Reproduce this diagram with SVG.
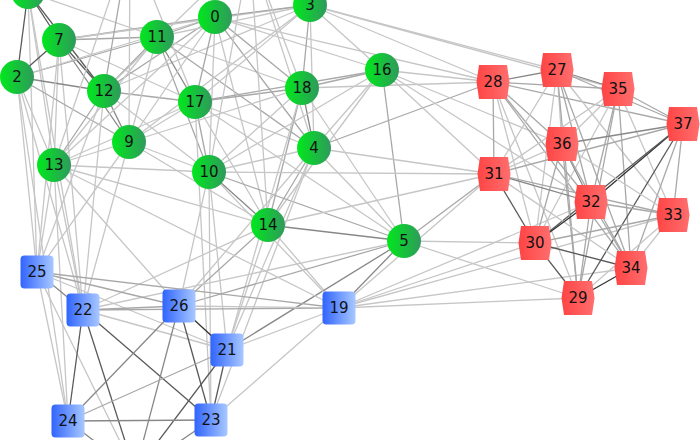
<svg xmlns="http://www.w3.org/2000/svg" width="700" height="440" viewBox="0 0 700 440">
<defs>
<linearGradient id="gG" x1="0" y1="0" x2="1" y2="0"><stop offset="0" stop-color="#00e81c"/><stop offset="1" stop-color="#2f9a5c"/></linearGradient>
<linearGradient id="gB" x1="0" y1="0" x2="1" y2="0"><stop offset="0" stop-color="#3064ff"/><stop offset="1" stop-color="#a8c8ff"/></linearGradient>
<linearGradient id="gR" x1="0" y1="0" x2="1" y2="0"><stop offset="0" stop-color="#ff4444"/><stop offset="1" stop-color="#ff6e6e"/></linearGradient>
</defs>
<style>
#edges line{stroke-width:1.3;fill:none}
.a{stroke:#c6c6c6}.b{stroke:#a8a8a8}.c{stroke:#888888}.d{stroke:#5a5a5a}.e{stroke:#333333}
.node text{font-family:"DejaVu Sans",sans-serif;font-size:15px;fill:#111;text-anchor:middle}
.g circle{fill:url(#gG)}
.bl rect{fill:url(#gB)}
.r polygon{fill:url(#gR)}
</style>
<rect width="700" height="440" fill="#ffffff"/>
<g id="edges">
<line class="d" x1="28" y1="-8" x2="17" y2="77"/>
<line class="d" x1="28" y1="-8" x2="59" y2="40"/>
<line class="d" x1="28" y1="-8" x2="104" y2="91"/>
<line class="a" x1="28" y1="-8" x2="54" y2="165"/>
<line class="a" x1="28" y1="-8" x2="37" y2="272"/>
<line class="a" x1="28" y1="-8" x2="157" y2="37"/>
<line class="a" x1="28" y1="-8" x2="83" y2="310"/>
<line class="d" x1="59" y1="40" x2="17" y2="77"/>
<line class="d" x1="59" y1="40" x2="104" y2="91"/>
<line class="c" x1="59" y1="40" x2="129" y2="142"/>
<line class="a" x1="59" y1="40" x2="54" y2="165"/>
<line class="b" x1="59" y1="40" x2="157" y2="37"/>
<line class="b" x1="59" y1="40" x2="215" y2="17"/>
<line class="a" x1="59" y1="40" x2="195" y2="102"/>
<line class="a" x1="59" y1="40" x2="310" y2="5"/>
<line class="a" x1="59" y1="40" x2="83" y2="310"/>
<line class="c" x1="17" y1="77" x2="104" y2="91"/>
<line class="b" x1="17" y1="77" x2="157" y2="37"/>
<line class="b" x1="17" y1="77" x2="129" y2="142"/>
<line class="a" x1="17" y1="77" x2="54" y2="165"/>
<line class="a" x1="17" y1="77" x2="215" y2="17"/>
<line class="a" x1="17" y1="77" x2="37" y2="272"/>
<line class="a" x1="17" y1="77" x2="68" y2="421"/>
<line class="a" x1="17" y1="77" x2="83" y2="310"/>
<line class="b" x1="104" y1="91" x2="157" y2="37"/>
<line class="b" x1="104" y1="91" x2="215" y2="17"/>
<line class="b" x1="104" y1="91" x2="195" y2="102"/>
<line class="c" x1="104" y1="91" x2="129" y2="142"/>
<line class="b" x1="104" y1="91" x2="54" y2="165"/>
<line class="a" x1="104" y1="91" x2="310" y2="5"/>
<line class="a" x1="104" y1="91" x2="83" y2="310"/>
<line class="a" x1="104" y1="91" x2="209" y2="172"/>
<line class="c" x1="157" y1="37" x2="195" y2="102"/>
<line class="b" x1="157" y1="37" x2="209" y2="172"/>
<line class="a" x1="157" y1="37" x2="129" y2="142"/>
<line class="a" x1="157" y1="37" x2="54" y2="165"/>
<line class="b" x1="157" y1="37" x2="215" y2="17"/>
<line class="a" x1="157" y1="37" x2="302" y2="88"/>
<line class="a" x1="157" y1="37" x2="310" y2="5"/>
<line class="b" x1="157" y1="37" x2="314" y2="148"/>
<line class="b" x1="215" y1="17" x2="195" y2="102"/>
<line class="a" x1="215" y1="17" x2="209" y2="172"/>
<line class="a" x1="215" y1="17" x2="129" y2="142"/>
<line class="a" x1="215" y1="17" x2="54" y2="165"/>
<line class="b" x1="215" y1="17" x2="310" y2="5"/>
<line class="b" x1="215" y1="17" x2="302" y2="88"/>
<line class="b" x1="215" y1="17" x2="314" y2="148"/>
<line class="a" x1="215" y1="17" x2="382" y2="70"/>
<line class="a" x1="215" y1="17" x2="268" y2="225"/>
<line class="b" x1="310" y1="5" x2="302" y2="88"/>
<line class="a" x1="310" y1="5" x2="314" y2="148"/>
<line class="a" x1="310" y1="5" x2="195" y2="102"/>
<line class="a" x1="310" y1="5" x2="382" y2="70"/>
<line class="a" x1="310" y1="5" x2="129" y2="142"/>
<line class="b" x1="195" y1="102" x2="209" y2="172"/>
<line class="b" x1="195" y1="102" x2="302" y2="88"/>
<line class="b" x1="195" y1="102" x2="382" y2="70"/>
<line class="a" x1="195" y1="102" x2="129" y2="142"/>
<line class="a" x1="195" y1="102" x2="268" y2="225"/>
<line class="a" x1="195" y1="102" x2="54" y2="165"/>
<line class="a" x1="195" y1="102" x2="314" y2="148"/>
<line class="b" x1="302" y1="88" x2="382" y2="70"/>
<line class="c" x1="302" y1="88" x2="314" y2="148"/>
<line class="b" x1="302" y1="88" x2="268" y2="225"/>
<line class="a" x1="302" y1="88" x2="209" y2="172"/>
<line class="a" x1="302" y1="88" x2="129" y2="142"/>
<line class="a" x1="382" y1="70" x2="314" y2="148"/>
<line class="a" x1="382" y1="70" x2="268" y2="225"/>
<line class="b" x1="382" y1="70" x2="404" y2="241"/>
<line class="a" x1="382" y1="70" x2="209" y2="172"/>
<line class="b" x1="314" y1="148" x2="268" y2="225"/>
<line class="a" x1="314" y1="148" x2="404" y2="241"/>
<line class="a" x1="314" y1="148" x2="209" y2="172"/>
<line class="a" x1="129" y1="142" x2="54" y2="165"/>
<line class="a" x1="129" y1="142" x2="209" y2="172"/>
<line class="a" x1="129" y1="142" x2="268" y2="225"/>
<line class="a" x1="54" y1="165" x2="209" y2="172"/>
<line class="a" x1="54" y1="165" x2="268" y2="225"/>
<line class="c" x1="209" y1="172" x2="268" y2="225"/>
<line class="b" x1="209" y1="172" x2="404" y2="241"/>
<line class="c" x1="268" y1="225" x2="404" y2="241"/>
<line class="a" x1="302" y1="88" x2="404" y2="241"/>
<line class="a" x1="195" y1="102" x2="404" y2="241"/>
<line class="b" x1="130" y1="-60" x2="104" y2="91"/>
<line class="a" x1="130" y1="-60" x2="129" y2="142"/>
<line class="a" x1="130" y1="-60" x2="195" y2="102"/>
<line class="a" x1="130" y1="-60" x2="54" y2="165"/>
<line class="a" x1="250" y1="-50" x2="268" y2="225"/>
<line class="a" x1="250" y1="-50" x2="314" y2="148"/>
<line class="a" x1="250" y1="-50" x2="209" y2="172"/>
<line class="a" x1="250" y1="-50" x2="104" y2="91"/>
<line class="a" x1="250" y1="-50" x2="302" y2="88"/>
<line class="a" x1="54" y1="165" x2="37" y2="272"/>
<line class="a" x1="54" y1="165" x2="83" y2="310"/>
<line class="a" x1="54" y1="165" x2="68" y2="421"/>
<line class="a" x1="54" y1="165" x2="179" y2="306"/>
<line class="a" x1="129" y1="142" x2="37" y2="272"/>
<line class="a" x1="129" y1="142" x2="83" y2="310"/>
<line class="a" x1="104" y1="91" x2="37" y2="272"/>
<line class="a" x1="59" y1="40" x2="37" y2="272"/>
<line class="a" x1="209" y1="172" x2="179" y2="306"/>
<line class="a" x1="209" y1="172" x2="227" y2="350"/>
<line class="a" x1="209" y1="172" x2="211" y2="420"/>
<line class="b" x1="268" y1="225" x2="179" y2="306"/>
<line class="a" x1="268" y1="225" x2="227" y2="350"/>
<line class="a" x1="268" y1="225" x2="339" y2="308"/>
<line class="a" x1="268" y1="225" x2="83" y2="310"/>
<line class="a" x1="314" y1="148" x2="227" y2="350"/>
<line class="a" x1="314" y1="148" x2="211" y2="420"/>
<line class="a" x1="314" y1="148" x2="179" y2="306"/>
<line class="a" x1="302" y1="88" x2="227" y2="350"/>
<line class="b" x1="404" y1="241" x2="179" y2="306"/>
<line class="c" x1="404" y1="241" x2="227" y2="350"/>
<line class="c" x1="404" y1="241" x2="339" y2="308"/>
<line class="a" x1="404" y1="241" x2="83" y2="310"/>
<line class="a" x1="195" y1="102" x2="211" y2="420"/>
<line class="a" x1="209" y1="172" x2="339" y2="308"/>
<line class="a" x1="54" y1="165" x2="339" y2="308"/>
<line class="c" x1="37" y1="272" x2="83" y2="310"/>
<line class="b" x1="37" y1="272" x2="179" y2="306"/>
<line class="b" x1="37" y1="272" x2="339" y2="308"/>
<line class="a" x1="37" y1="272" x2="227" y2="350"/>
<line class="a" x1="37" y1="272" x2="68" y2="421"/>
<line class="a" x1="37" y1="272" x2="135" y2="472"/>
<line class="b" x1="83" y1="310" x2="179" y2="306"/>
<line class="b" x1="83" y1="310" x2="339" y2="308"/>
<line class="a" x1="83" y1="310" x2="227" y2="350"/>
<line class="d" x1="83" y1="310" x2="68" y2="421"/>
<line class="d" x1="83" y1="310" x2="211" y2="420"/>
<line class="d" x1="83" y1="310" x2="135" y2="472"/>
<line class="e" x1="179" y1="306" x2="227" y2="350"/>
<line class="a" x1="179" y1="306" x2="339" y2="308"/>
<line class="c" x1="179" y1="306" x2="68" y2="421"/>
<line class="d" x1="179" y1="306" x2="211" y2="420"/>
<line class="c" x1="179" y1="306" x2="135" y2="472"/>
<line class="a" x1="227" y1="350" x2="339" y2="308"/>
<line class="b" x1="227" y1="350" x2="68" y2="421"/>
<line class="d" x1="227" y1="350" x2="211" y2="420"/>
<line class="d" x1="227" y1="350" x2="135" y2="472"/>
<line class="c" x1="68" y1="421" x2="211" y2="420"/>
<line class="c" x1="68" y1="421" x2="135" y2="472"/>
<line class="a" x1="211" y1="420" x2="339" y2="308"/>
<line class="c" x1="211" y1="420" x2="135" y2="472"/>
<line class="a" x1="339" y1="308" x2="494" y2="174"/>
<line class="a" x1="339" y1="308" x2="535" y2="243"/>
<line class="a" x1="339" y1="308" x2="578" y2="298"/>
<line class="a" x1="339" y1="308" x2="631" y2="268"/>
<line class="a" x1="339" y1="308" x2="591" y2="202"/>
<line class="a" x1="339" y1="308" x2="673" y2="215"/>
<line class="a" x1="493" y1="82" x2="382" y2="70"/>
<line class="a" x1="493" y1="82" x2="310" y2="5"/>
<line class="b" x1="493" y1="82" x2="314" y2="148"/>
<line class="a" x1="493" y1="82" x2="302" y2="88"/>
<line class="a" x1="493" y1="82" x2="215" y2="17"/>
<line class="a" x1="557" y1="70" x2="310" y2="5"/>
<line class="a" x1="618" y1="89" x2="310" y2="5"/>
<line class="a" x1="494" y1="174" x2="382" y2="70"/>
<line class="a" x1="494" y1="174" x2="314" y2="148"/>
<line class="a" x1="494" y1="174" x2="268" y2="225"/>
<line class="b" x1="494" y1="174" x2="404" y2="241"/>
<line class="a" x1="591" y1="202" x2="382" y2="70"/>
<line class="a" x1="562" y1="144" x2="382" y2="70"/>
<line class="a" x1="535" y1="243" x2="404" y2="241"/>
<line class="a" x1="578" y1="298" x2="404" y2="241"/>
<line class="a" x1="494" y1="174" x2="209" y2="172"/>
<line class="c" x1="493" y1="82" x2="557" y2="70"/>
<line class="b" x1="493" y1="82" x2="618" y2="89"/>
<line class="b" x1="493" y1="82" x2="683" y2="124"/>
<line class="b" x1="493" y1="82" x2="494" y2="174"/>
<line class="b" x1="493" y1="82" x2="562" y2="144"/>
<line class="b" x1="493" y1="82" x2="591" y2="202"/>
<line class="a" x1="493" y1="82" x2="535" y2="243"/>
<line class="b" x1="493" y1="82" x2="631" y2="268"/>
<line class="a" x1="493" y1="82" x2="578" y2="298"/>
<line class="c" x1="557" y1="70" x2="618" y2="89"/>
<line class="b" x1="557" y1="70" x2="683" y2="124"/>
<line class="a" x1="557" y1="70" x2="562" y2="144"/>
<line class="a" x1="557" y1="70" x2="494" y2="174"/>
<line class="b" x1="557" y1="70" x2="591" y2="202"/>
<line class="a" x1="557" y1="70" x2="535" y2="243"/>
<line class="b" x1="557" y1="70" x2="578" y2="298"/>
<line class="b" x1="557" y1="70" x2="631" y2="268"/>
<line class="a" x1="557" y1="70" x2="673" y2="215"/>
<line class="b" x1="618" y1="89" x2="683" y2="124"/>
<line class="a" x1="618" y1="89" x2="562" y2="144"/>
<line class="a" x1="618" y1="89" x2="494" y2="174"/>
<line class="b" x1="618" y1="89" x2="591" y2="202"/>
<line class="a" x1="618" y1="89" x2="535" y2="243"/>
<line class="b" x1="618" y1="89" x2="631" y2="268"/>
<line class="b" x1="618" y1="89" x2="578" y2="298"/>
<line class="a" x1="618" y1="89" x2="673" y2="215"/>
<line class="c" x1="683" y1="124" x2="562" y2="144"/>
<line class="b" x1="683" y1="124" x2="494" y2="174"/>
<line class="e" x1="683" y1="124" x2="591" y2="202"/>
<line class="d" x1="683" y1="124" x2="535" y2="243"/>
<line class="d" x1="683" y1="124" x2="578" y2="298"/>
<line class="b" x1="683" y1="124" x2="631" y2="268"/>
<line class="b" x1="683" y1="124" x2="673" y2="215"/>
<line class="a" x1="562" y1="144" x2="494" y2="174"/>
<line class="c" x1="562" y1="144" x2="591" y2="202"/>
<line class="b" x1="562" y1="144" x2="535" y2="243"/>
<line class="b" x1="562" y1="144" x2="578" y2="298"/>
<line class="b" x1="562" y1="144" x2="631" y2="268"/>
<line class="a" x1="562" y1="144" x2="673" y2="215"/>
<line class="c" x1="494" y1="174" x2="591" y2="202"/>
<line class="b" x1="494" y1="174" x2="673" y2="215"/>
<line class="d" x1="494" y1="174" x2="535" y2="243"/>
<line class="a" x1="494" y1="174" x2="631" y2="268"/>
<line class="b" x1="591" y1="202" x2="673" y2="215"/>
<line class="e" x1="591" y1="202" x2="535" y2="243"/>
<line class="b" x1="591" y1="202" x2="631" y2="268"/>
<line class="b" x1="591" y1="202" x2="578" y2="298"/>
<line class="b" x1="535" y1="243" x2="673" y2="215"/>
<line class="d" x1="535" y1="243" x2="631" y2="268"/>
<line class="d" x1="535" y1="243" x2="578" y2="298"/>
<line class="e" x1="578" y1="298" x2="631" y2="268"/>
<line class="a" x1="578" y1="298" x2="673" y2="215"/>
<line class="a" x1="631" y1="268" x2="673" y2="215"/>
</g>
<g id="node-top" class="node g" transform="translate(28,-8)"><circle r="17"/></g>
<g id="node-0" class="node g" transform="translate(215,17)"><circle r="17"/><text y="5">0</text></g>
<g id="node-2" class="node g" transform="translate(17,77)"><circle r="17"/><text y="5">2</text></g>
<g id="node-3" class="node g" transform="translate(310,5)"><circle r="17"/><text y="5">3</text></g>
<g id="node-4" class="node g" transform="translate(314,148)"><circle r="17"/><text y="5">4</text></g>
<g id="node-5" class="node g" transform="translate(404,241)"><circle r="17"/><text y="5">5</text></g>
<g id="node-7" class="node g" transform="translate(59,40)"><circle r="17"/><text y="5">7</text></g>
<g id="node-9" class="node g" transform="translate(129,142)"><circle r="17"/><text y="5">9</text></g>
<g id="node-10" class="node g" transform="translate(209,172)"><circle r="17"/><text y="5">10</text></g>
<g id="node-11" class="node g" transform="translate(157,37)"><circle r="17"/><text y="5">11</text></g>
<g id="node-12" class="node g" transform="translate(104,91)"><circle r="17"/><text y="5">12</text></g>
<g id="node-13" class="node g" transform="translate(54,165)"><circle r="17"/><text y="5">13</text></g>
<g id="node-14" class="node g" transform="translate(268,225)"><circle r="17"/><text y="5">14</text></g>
<g id="node-16" class="node g" transform="translate(382,70)"><circle r="17"/><text y="5">16</text></g>
<g id="node-17" class="node g" transform="translate(195,102)"><circle r="17"/><text y="5">17</text></g>
<g id="node-18" class="node g" transform="translate(302,88)"><circle r="17"/><text y="5">18</text></g>
<g id="node-19" class="node bl" transform="translate(339,308)"><rect x="-16.5" y="-16.5" width="33" height="33" rx="4"/><text y="5">19</text></g>
<g id="node-21" class="node bl" transform="translate(227,350)"><rect x="-16.5" y="-16.5" width="33" height="33" rx="4"/><text y="5">21</text></g>
<g id="node-22" class="node bl" transform="translate(83,310)"><rect x="-16.5" y="-16.5" width="33" height="33" rx="4"/><text y="5">22</text></g>
<g id="node-23" class="node bl" transform="translate(211,420)"><rect x="-16.5" y="-16.5" width="33" height="33" rx="4"/><text y="5">23</text></g>
<g id="node-24" class="node bl" transform="translate(68,421)"><rect x="-16.5" y="-16.5" width="33" height="33" rx="4"/><text y="5">24</text></g>
<g id="node-25" class="node bl" transform="translate(37,272)"><rect x="-16.5" y="-16.5" width="33" height="33" rx="4"/><text y="5">25</text></g>
<g id="node-26" class="node bl" transform="translate(179,306)"><rect x="-16.5" y="-16.5" width="33" height="33" rx="4"/><text y="5">26</text></g>
<g id="node-27" class="node r" transform="translate(557,70)"><polygon points="-14,-17 14,-17 16.5,0 14,17 -14,17 -16.5,0"/><text y="5">27</text></g>
<g id="node-28" class="node r" transform="translate(493,82)"><polygon points="-14,-17 14,-17 16.5,0 14,17 -14,17 -16.5,0"/><text y="5">28</text></g>
<g id="node-29" class="node r" transform="translate(578,298)"><polygon points="-14,-17 14,-17 16.5,0 14,17 -14,17 -16.5,0"/><text y="5">29</text></g>
<g id="node-30" class="node r" transform="translate(535,243)"><polygon points="-14,-17 14,-17 16.5,0 14,17 -14,17 -16.5,0"/><text y="5">30</text></g>
<g id="node-31" class="node r" transform="translate(494,174)"><polygon points="-14,-17 14,-17 16.5,0 14,17 -14,17 -16.5,0"/><text y="5">31</text></g>
<g id="node-32" class="node r" transform="translate(591,202)"><polygon points="-14,-17 14,-17 16.5,0 14,17 -14,17 -16.5,0"/><text y="5">32</text></g>
<g id="node-33" class="node r" transform="translate(673,215)"><polygon points="-14,-17 14,-17 16.5,0 14,17 -14,17 -16.5,0"/><text y="5">33</text></g>
<g id="node-34" class="node r" transform="translate(631,268)"><polygon points="-14,-17 14,-17 16.5,0 14,17 -14,17 -16.5,0"/><text y="5">34</text></g>
<g id="node-35" class="node r" transform="translate(618,89)"><polygon points="-14,-17 14,-17 16.5,0 14,17 -14,17 -16.5,0"/><text y="5">35</text></g>
<g id="node-36" class="node r" transform="translate(562,144)"><polygon points="-14,-17 14,-17 16.5,0 14,17 -14,17 -16.5,0"/><text y="5">36</text></g>
<g id="node-37" class="node r" transform="translate(683,124)"><polygon points="-14,-17 14,-17 16.5,0 14,17 -14,17 -16.5,0"/><text y="5">37</text></g>
</svg>
